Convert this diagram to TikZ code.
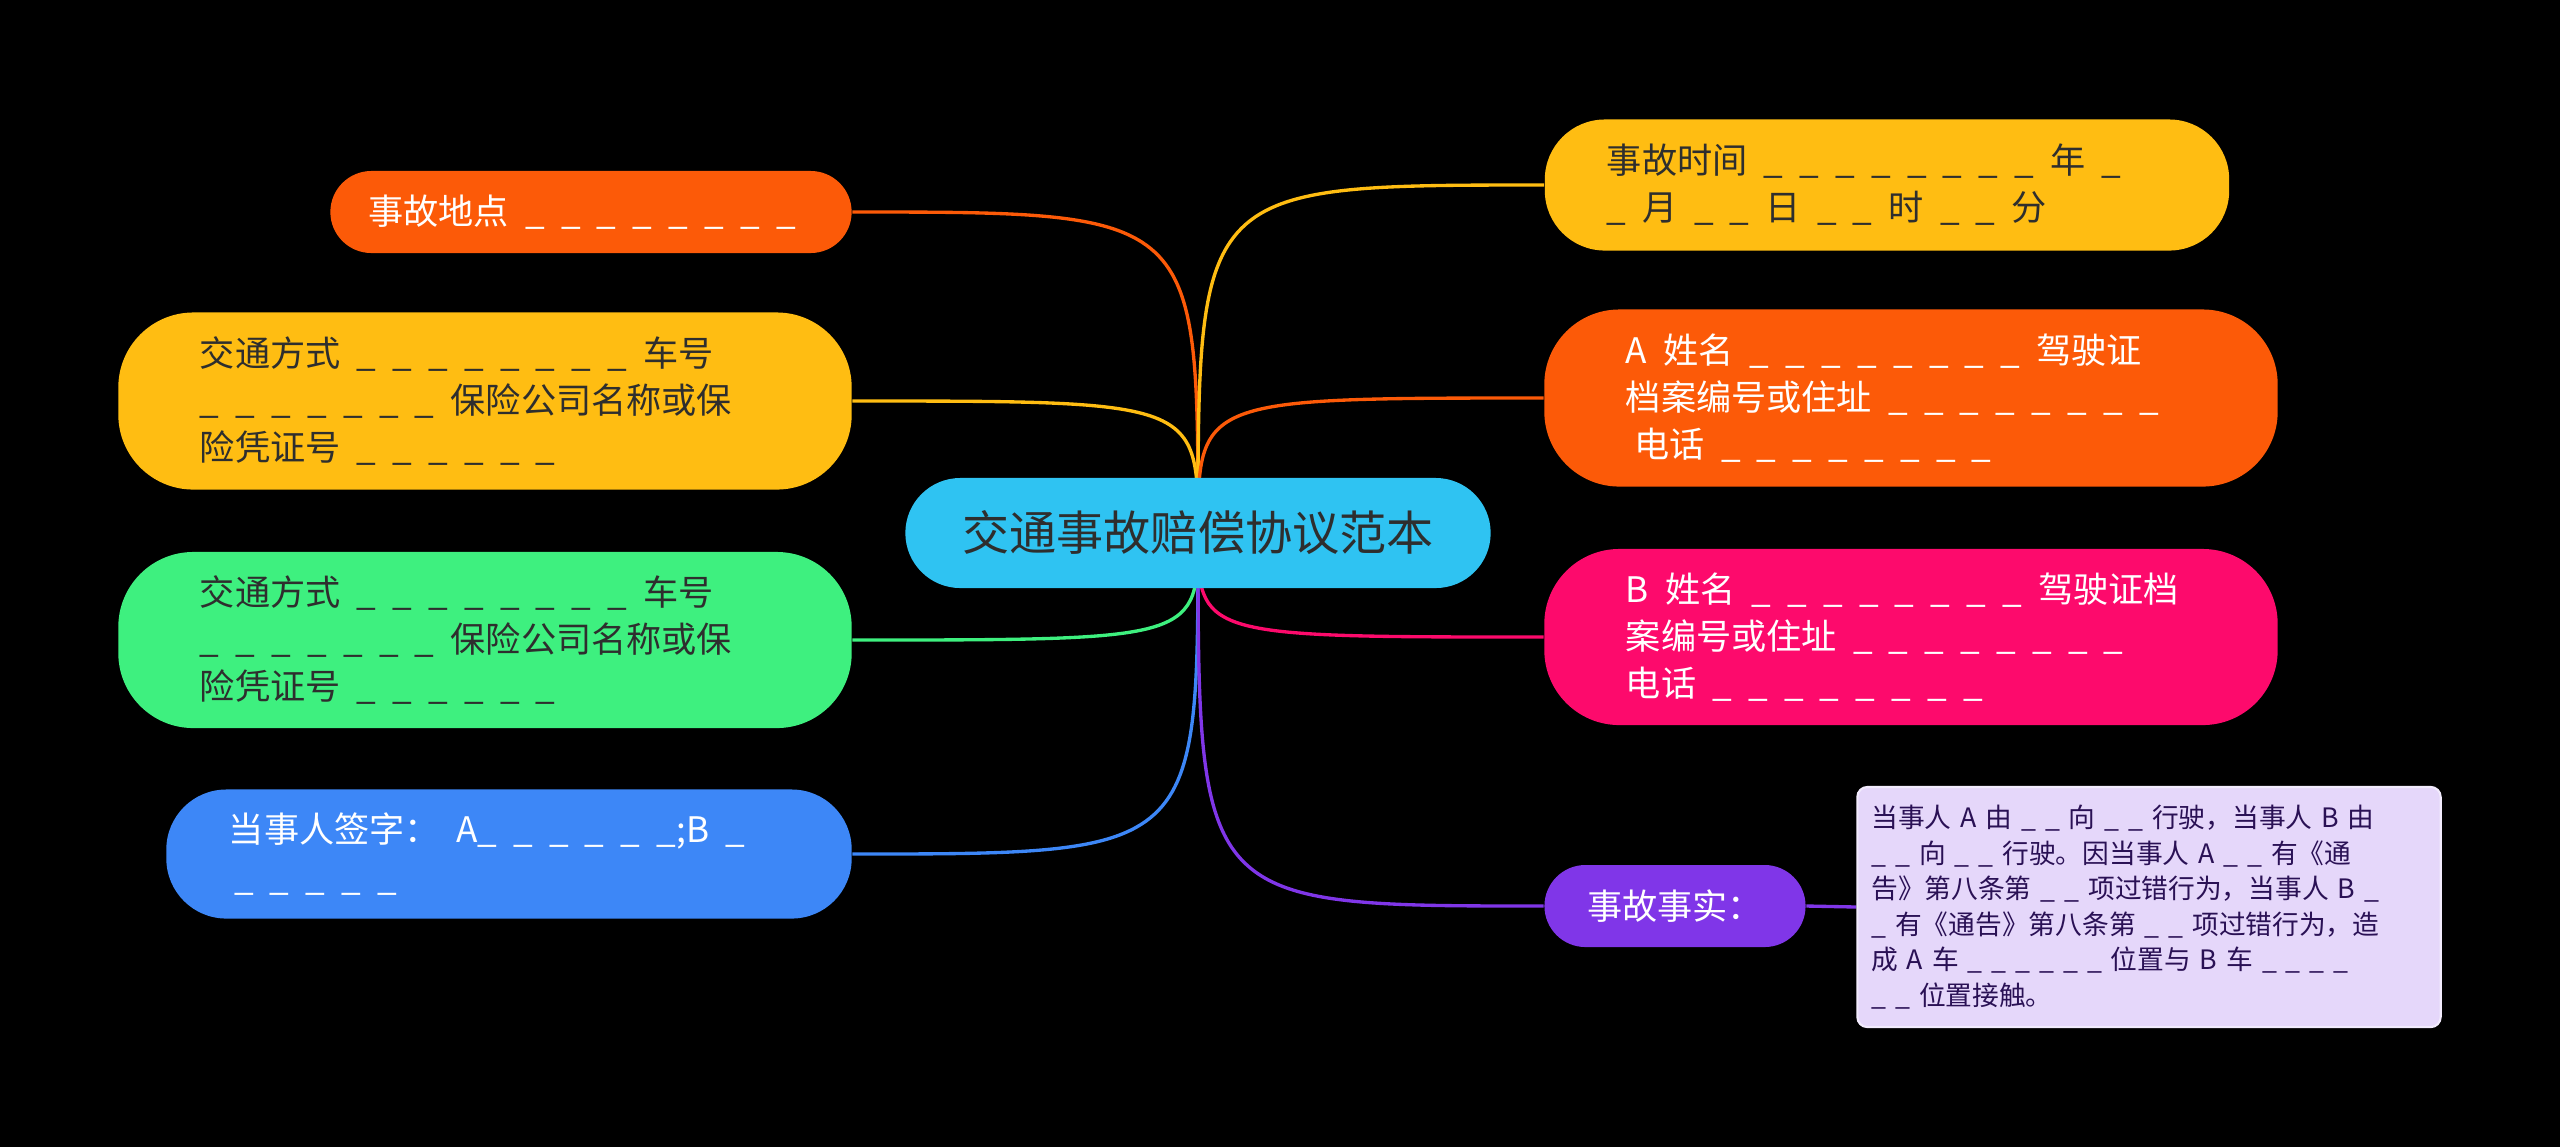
\documentclass[tikz,border=0pt]{standalone}
\usepackage{fontspec}
\setmainfont{Noto Sans CJK SC}
\usetikzlibrary{backgrounds}

\definecolor{rootc}{HTML}{2FC3F2}
\definecolor{orangec}{HTML}{FC5A08}
\definecolor{yellowc}{HTML}{FFBD12}
\definecolor{greenc}{HTML}{3EF07F}
\definecolor{bluec}{HTML}{3D87F7}
\definecolor{pinkc}{HTML}{FD0A6C}
\definecolor{purplec}{HTML}{8036E8}
\definecolor{notec}{HTML}{E5D7FA}
\definecolor{notebd}{HTML}{F2EBFD}
\definecolor{inkc}{HTML}{2E2E2E}
\definecolor{noteink}{HTML}{2A1155}

% wider word space for the blanks
\newcommand\widespace{\spaceskip=0.46em\relax\xspaceskip=0.46em\relax}

\begin{document}
\begin{tikzpicture}[x=0.01cm, y=-0.01cm, line cap=round,
    pill/.style={rounded corners=#1, inner xsep=0pt, inner ysep=0pt, align=left,
        font=\fontsize{10}{13.4}\selectfont, execute at begin node=\widespace},
    pill/.default=0.41cm,
    notebox/.style={rounded corners=0.1cm, inner xsep=0pt, inner ysep=0pt, align=left,
        fill=notec, draw=notebd, line width=0.6pt, text=noteink,
        font=\fontsize{7.6}{10.1}\selectfont},
    link/.style={line width=0.95pt}]
    \useasboundingbox (0,0) rectangle (2560,1147);
    % centre
    \node[pill=0.55cm, fill=rootc, text=inkc, minimum width=5.85cm, minimum height=1.1cm,
        font=\fontsize{13.4}{16}\selectfont] (root) at (1198,533) {交通事故赔偿协议范本};
    % left side
    \node[pill, fill=orangec, text=white, minimum width=5.21cm, minimum height=0.82cm,
        text width=4.45cm] (place) at (591,212) {事故地点 \_ \_ \_ \_ \_ \_ \_ \_};
    \node[pill=0.75cm, fill=yellowc, text=inkc, minimum width=7.33cm, minimum height=1.77cm,
        text width=5.7cm] (mode1) at (485,401)
        {交通方式 \_ \_ \_ \_ \_ \_ \_ \_ 车号\\
         \_ \_ \_ \_ \_ \_ \_ 保险公司名称或保\\
         险凭证号 \_ \_ \_ \_ \_ \_};
    \node[pill=0.75cm, fill=greenc, text=inkc, minimum width=7.33cm, minimum height=1.76cm,
        text width=5.7cm] (mode2) at (485,640)
        {交通方式 \_ \_ \_ \_ \_ \_ \_ \_ 车号\\
         \_ \_ \_ \_ \_ \_ \_ 保险公司名称或保\\
         险凭证号 \_ \_ \_ \_ \_ \_};
    \node[pill=0.6cm, fill=bluec, text=white, minimum width=6.85cm, minimum height=1.29cm,
        text width=5.6cm] (sign) at (509,854)
        {当事人签字： A\_ \_ \_ \_ \_ \_;B \_\\
         \hspace*{.15em}\_ \_ \_ \_ \_};
    % right side
    \node[pill=0.6cm, fill=yellowc, text=inkc, minimum width=6.84cm, minimum height=1.31cm,
        text width=5.6cm] (time) at (1887,185)
        {事故时间 \_ \_ \_ \_ \_ \_ \_ \_ 年 \_\\
         \_ 月 \_ \_ 日 \_ \_ 时 \_ \_ 分};
    \node[pill=0.75cm, fill=orangec, text=white, minimum width=7.33cm, minimum height=1.77cm,
        text width=5.7cm] (pA) at (1911,398)
        {A 姓名 \_ \_ \_ \_ \_ \_ \_ \_ 驾驶证\\
         档案编号或住址 \_ \_ \_ \_ \_ \_ \_ \_\\
         \hspace*{.25em}电话 \_ \_ \_ \_ \_ \_ \_ \_};
    \node[pill=0.75cm, fill=pinkc, text=white, minimum width=7.33cm, minimum height=1.76cm,
        text width=5.7cm] (pB) at (1911,637)
        {B 姓名 \_ \_ \_ \_ \_ \_ \_ \_ 驾驶证档\\
         案编号或住址 \_ \_ \_ \_ \_ \_ \_ \_\\
         电话 \_ \_ \_ \_ \_ \_ \_ \_};
    \node[pill, fill=purplec, text=white, minimum width=2.61cm, minimum height=0.82cm]
        (fact) at (1675,906) {事故事实：};
    \node[notebox, minimum width=5.83cm, minimum height=2.4cm, text width=5.55cm]
        (note) at (2149,907)
        {当事人 A 由 \_ \_ 向 \_ \_ 行驶，当事人 B 由\\
         \_ \_ 向 \_ \_ 行驶。因当事人 A \_ \_ 有《通\\
         告》第八条第 \_ \_ 项过错行为，当事人 B \_\\
         \_ 有《通告》第八条第 \_ \_ 项过错行为，造\\
         成 A 车 \_ \_ \_ \_ \_ \_ 位置与 B 车 \_ \_ \_ \_\\
         \_ \_ 位置接触。};
    % links behind the boxes
    \begin{pgfonlayer}{background}
        \fill[black] (0,0) rectangle (2560,1147);
        \draw[link, orangec] (root.center) .. controls (root.center |- place.east) .. (place.east);
        \draw[link, yellowc] (root.center) .. controls (root.center |- mode1.east) .. (mode1.east);
        \draw[link, greenc] (root.center) .. controls (root.center |- mode2.east) .. (mode2.east);
        \draw[link, bluec] (root.center) .. controls (root.center |- sign.east) .. (sign.east);
        \draw[link, yellowc] (root.center) .. controls (root.center |- time.west) .. (time.west);
        \draw[link, orangec] (root.center) .. controls (root.center |- pA.west) .. (pA.west);
        \draw[link, pinkc] (root.center) .. controls (root.center |- pB.west) .. (pB.west);
        \draw[link, purplec] (root.center) .. controls (root.center |- fact.west) .. (fact.west);
        \draw[link, purplec] (fact.east) -- (note.west);
    \end{pgfonlayer}
\end{tikzpicture}
\end{document}
